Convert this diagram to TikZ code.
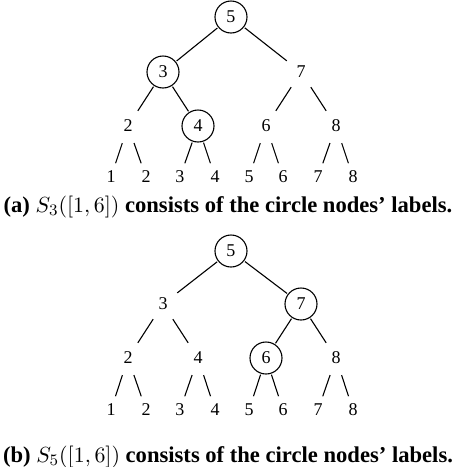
\documentclass[tikz,border=0pt]{standalone}
\usepackage{fontspec}
\setmainfont{Liberation Serif}

\tikzset{
  hit/.style={circle, draw, minimum size=16pt, inner sep=0pt, outer sep=0.75pt, font=\fontsize{9}{11}\selectfont},
  miss/.style={circle, minimum size=17.5pt, inner sep=0pt, font=\fontsize{9}{11}\selectfont},
  leaf/.style={circle, minimum size=14pt, inner sep=0pt, font=\fontsize{9}{11}\selectfont},
  capt/.style={font=\fontsize{11.3}{13}\selectfont\bfseries}
}

\begin{document}
\begin{tikzpicture}[x=0.5pt, y=-0.5pt, line width=0.55pt]
  \useasboundingbox (0,0) rectangle (456,467);
  % (a) tree: the cover of [1,6] at level 3
  \node[hit]  (a-r) at (231,17)  {5};
  \node[hit]  (a-l) at (163,72)  {3};
  \node[miss] (a-R) at (301,72)  {7};
  \node[miss] (a-ll) at (128,126) {2};
  \node[hit]  (a-lr) at (198,126) {4};
  \node[miss] (a-rl) at (266,126) {6};
  \node[miss] (a-rr) at (336,126) {8};
  \foreach \v/\x in {1/111,2/146,3/180,4/215,5/249,6/283,7/318,8/353}
    \node[leaf] (a-\v) at (\x,177) {\v};
  \draw (a-r) -- (a-l);  \draw (a-r) -- (a-R);
  \draw (a-l) -- (a-ll); \draw (a-l) -- (a-lr);
  \draw (a-R) -- (a-rl); \draw (a-R) -- (a-rr);
  \draw (a-ll) -- (a-1); \draw (a-ll) -- (a-2);
  \draw (a-lr) -- (a-3); \draw (a-lr) -- (a-4);
  \draw (a-rl) -- (a-5); \draw (a-rl) -- (a-6);
  \draw (a-rr) -- (a-7); \draw (a-rr) -- (a-8);
  \node[capt] (a-cap) at (228,207) {(a) $S_3([1,6])$ consists of the circle nodes' labels.};

  % (b) tree: the cover of [1,6] at level 5
  \node[hit]  (b-r) at (231,251) {5};
  \node[miss] (b-l) at (163,304) {3};
  \node[hit]  (b-R) at (301,304) {7};
  \node[miss] (b-ll) at (128,358) {2};
  \node[miss] (b-lr) at (198,358) {4};
  \node[hit]  (b-rl) at (266,358) {6};
  \node[miss] (b-rr) at (336,358) {8};
  \foreach \v/\x in {1/111,2/146,3/180,4/215,5/249,6/283,7/318,8/353}
    \node[leaf] (b-\v) at (\x,410) {\v};
  \draw (b-r) -- (b-l);  \draw (b-r) -- (b-R);
  \draw (b-l) -- (b-ll); \draw (b-l) -- (b-lr);
  \draw (b-R) -- (b-rl); \draw (b-R) -- (b-rr);
  \draw (b-ll) -- (b-1); \draw (b-ll) -- (b-2);
  \draw (b-lr) -- (b-3); \draw (b-lr) -- (b-4);
  \draw (b-rl) -- (b-5); \draw (b-rl) -- (b-6);
  \draw (b-rr) -- (b-7); \draw (b-rr) -- (b-8);
  \node[capt] (b-cap) at (228,457) {(b) $S_5([1,6])$ consists of the circle nodes' labels.};
\end{tikzpicture}
\end{document}
